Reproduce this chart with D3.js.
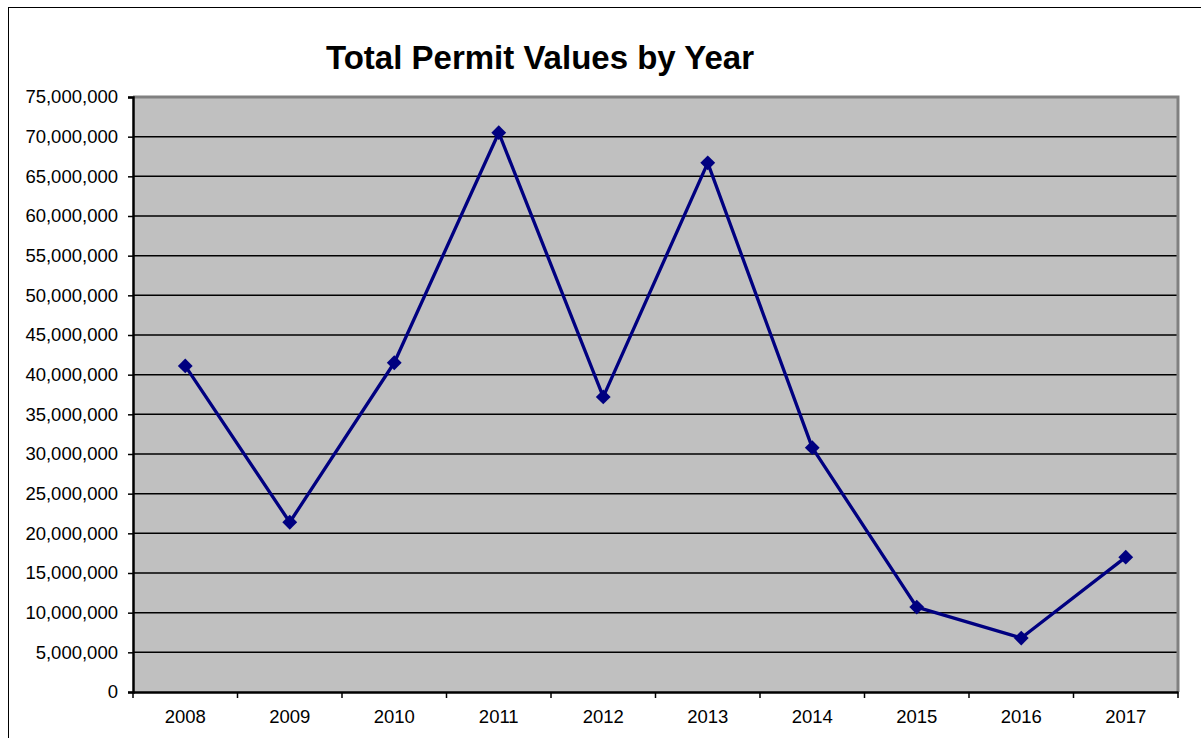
<!DOCTYPE html>
<html>
<head>
<meta charset="utf-8">
<script src="https://cdn.jsdelivr.net/npm/d3@7"></script>
<style>
  body { margin: 0; background: #fff; }
  text { font-family: "Liberation Sans", Arial, sans-serif; }
</style>
</head>
<body>
<svg width="1201" height="738"></svg>
<script>
const years = ["2008", "2009", "2010", "2011", "2012", "2013", "2014", "2015", "2016", "2017"];
const permitValues = [41100000, 21400000, 41500000, 70500000, 37200000, 66700000, 30800000, 10700000, 6800000, 17000000];
const yTicks = d3.range(0, 75000001, 5000000);

const svg = d3.select("svg");
const margin = {top: 97, right: 23, bottom: 46, left: 133};
const width = 1201 - margin.left - margin.right;
const height = 738 - margin.top - margin.bottom;

// outer chart border
svg.append("rect")
    .attr("x", 8.5).attr("y", 7.5)
    .attr("width", 1300).attr("height", 800)
    .attr("fill", "none").attr("stroke", "#000");

svg.append("text")
    .attr("x", 540).attr("y", 69)
    .attr("text-anchor", "middle")
    .attr("font-size", "33px")
    .attr("font-weight", "bold")
    .text("Total Permit Values by Year");

const g = svg.append("g").attr("transform", `translate(${margin.left},${margin.top})`);

const x = d3.scaleBand().domain(years).range([0, width]);
const y = d3.scaleLinear().domain([0, 75000000]).range([height, 0]);

g.append("rect")
    .attr("width", width).attr("height", height)
    .attr("fill", "#c0c0c0");

// gridlines
g.append("g")
    .selectAll("line")
    .data(yTicks.slice(1, -1))
    .join("line")
    .attr("x1", 0).attr("x2", width)
    .attr("y1", d => y(d)).attr("y2", d => y(d))
    .attr("stroke", "#000").attr("stroke-width", 1.5);

// grey top and right frame
g.append("path")
    .attr("d", `M0,0H${width}V${height}`)
    .attr("fill", "none").attr("stroke", "#808080").attr("stroke-width", 3);

const yAxis = g.append("g")
    .call(d3.axisLeft(y).tickValues(yTicks).tickSize(5).tickPadding(10).tickFormat(d3.format(",")));
yAxis.select(".domain").attr("stroke-width", 2.5);
yAxis.selectAll(".tick line").attr("stroke-width", 1.5);
yAxis.selectAll("text").attr("font-size", "18.5px").attr("font-family", "Liberation Sans, Arial, sans-serif").attr("fill", "#000");

const xAxis = g.append("g")
    .attr("transform", `translate(0,${height})`)
    .call(d3.axisBottom(x).tickSize(0).tickPadding(18));
xAxis.select(".domain").attr("stroke-width", 2.5);
xAxis.selectAll("text").attr("font-size", "18.5px").attr("font-family", "Liberation Sans, Arial, sans-serif").attr("fill", "#000");
// category boundary ticks
xAxis.append("g")
    .selectAll("line")
    .data(years.concat(["end"]))
    .join("line")
    .attr("x1", (d, i) => i * x.step()).attr("x2", (d, i) => i * x.step())
    .attr("y1", 0).attr("y2", 6)
    .attr("stroke", "#000").attr("stroke-width", 1.5);

const pts = years.map((yr, i) => ({year: yr, value: permitValues[i]}));

g.append("path")
    .datum(pts)
    .attr("fill", "none")
    .attr("stroke", "#000080")
    .attr("stroke-width", 3.3)
    .attr("stroke-linejoin", "round")
    .attr("d", d3.line().x(d => x(d.year) + x.bandwidth() / 2).y(d => y(d.value)));

g.append("g")
    .selectAll("path")
    .data(pts)
    .join("path")
    .attr("transform", d => `translate(${x(d.year) + x.bandwidth() / 2},${y(d.value)})`)
    .attr("d", d3.symbol(d3.symbolDiamond2, 140))
    .attr("fill", "#000080");
</script>
</body>
</html>
